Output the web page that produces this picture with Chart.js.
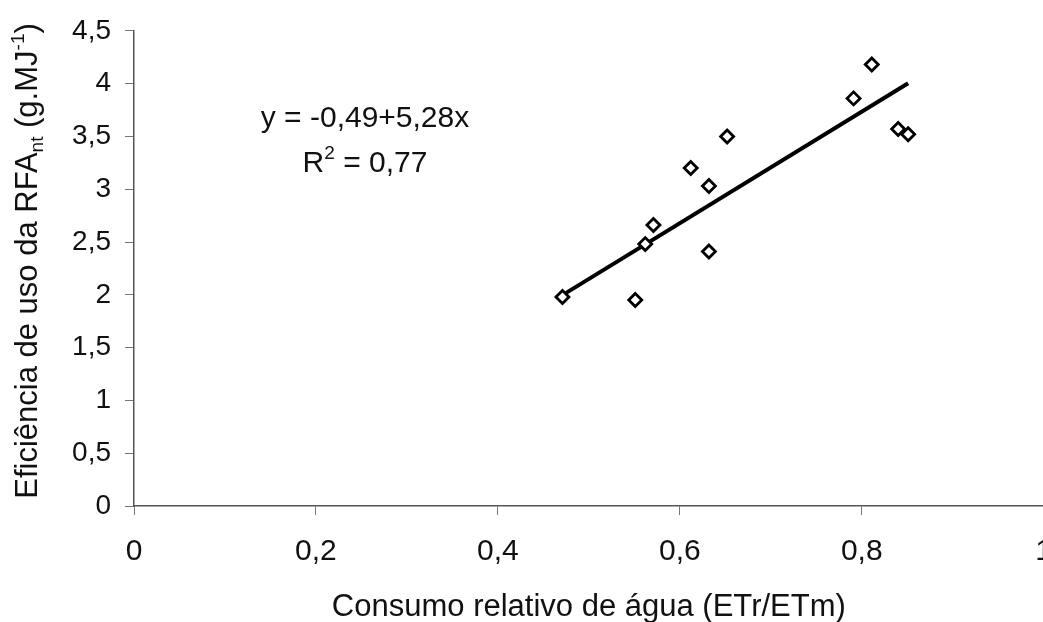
<!DOCTYPE html>
<html lang="pt">
<head>
<meta charset="utf-8">
<title>Eficiência de uso da RFA</title>
<script src="https://cdn.jsdelivr.net/npm/chart.js@4.4.1/dist/chart.umd.min.js"></script>
<style>
  html, body { margin: 0; padding: 0; background: #ffffff; overflow: hidden; }
  #wrap { width: 1043px; height: 622px; overflow: hidden; }
  canvas { display: block; }
</style>
</head>
<body>
<div id="wrap"><canvas id="chart" width="1053" height="622"></canvas></div>
<script>
// Observed points: relative water use (ETr/ETm) vs. RFA use efficiency
const consumoRelativo = [0.471, 0.551, 0.562, 0.571, 0.612, 0.632, 0.632, 0.652, 0.791, 0.811, 0.840, 0.851];
const eficienciaRFA   = [1.98, 1.95, 2.48, 2.66, 3.20, 3.03, 2.41, 3.50, 3.86, 4.18, 3.57, 3.52];

// Linear fit y = a + b·x and its coefficient of determination
const fitIntercept = -0.49;
const fitSlope = 5.28;
const fitR2 = 0.77;

// Axis tick values
const xTicks = [0, 0.2, 0.4, 0.6, 0.8, 1];
const yTicks = [0, 0.5, 1, 1.5, 2, 2.5, 3, 3.5, 4, 4.5];

const FONT = '"Liberation Sans", Arial, Helvetica, sans-serif';
const comma = v => String(Math.round(v * 100) / 100).replace('.', ',');

const points = consumoRelativo.map((x, i) => ({ x, y: eficienciaRFA[i] }));
const xMin = Math.min(...consumoRelativo);
const xMax = Math.max(...consumoRelativo);
const fitLine = [xMin, xMax].map(x => ({ x, y: fitIntercept + fitSlope * x }));

// Draws a run of text pieces (normal / subscript / superscript) centred on the origin
function drawRich(ctx, pieces, size) {
  const measure = p => {
    ctx.font = (p.sub || p.sup ? Math.round(size * 0.62) : size) + 'px ' + FONT;
    return ctx.measureText(p.t).width;
  };
  const total = pieces.reduce((s, p) => s + measure(p), 0);
  let x = -total / 2;
  ctx.textBaseline = 'alphabetic';
  ctx.textAlign = 'left';
  const base = size * 0.358;
  pieces.forEach(p => {
    const w = measure(p);
    let dy = 0;
    if (p.sub) dy = size * 0.2;
    if (p.sup) dy = -size * 0.42;
    ctx.fillText(p.t, x, base + dy);
    x += w;
  });
}

const textPlugin = {
  id: 'chartText',
  beforeDraw(chart) {
    const { ctx } = chart;
    ctx.save();
    ctx.fillStyle = '#ffffff';
    ctx.fillRect(0, 0, chart.width, chart.height);
    ctx.restore();
  },
  afterDraw(chart) {
    const { ctx, chartArea } = chart;
    ctx.save();
    ctx.fillStyle = '#111111';

    // y axis title
    ctx.save();
    ctx.translate(26, 261);
    ctx.rotate(-Math.PI / 2);
    drawRich(ctx, [
      { t: 'Eficiência de uso da RFA' },
      { t: 'nt', sub: true },
      { t: ' (g.MJ' },
      { t: '-1', sup: true },
      { t: ')' }
    ], 31);
    ctx.restore();

    // x axis title
    ctx.save();
    ctx.translate((chartArea.left + chartArea.right) / 2, 605);
    drawRich(ctx, [{ t: 'Consumo relativo de água (ETr/ETm)' }], 31);
    ctx.restore();

    // regression equation
    const sign = fitSlope >= 0 ? '+' : '-';
    ctx.save();
    ctx.translate(365, 116);
    drawRich(ctx, [{ t: 'y = ' + comma(fitIntercept) + sign + comma(Math.abs(fitSlope)) + 'x' }], 30);
    ctx.restore();
    ctx.save();
    ctx.translate(365, 161);
    drawRich(ctx, [{ t: 'R' }, { t: '2', sup: true }, { t: ' = ' + comma(fitR2) }], 30);
    ctx.restore();

    ctx.restore();
  }
};

new Chart(document.getElementById('chart'), {
  type: 'scatter',
  data: {
    datasets: [
      {
        type: 'line',
        data: fitLine,
        borderColor: '#000000',
        borderWidth: 4,
        pointRadius: 0,
        fill: false,
        order: 2
      },
      {
        data: points,
        pointStyle: 'rectRot',
        pointRadius: 6.5,
        pointBorderWidth: 2.8,
        pointBorderColor: '#000000',
        pointBackgroundColor: '#ffffff',
        order: 1
      }
    ]
  },
  options: {
    responsive: false,
    animation: false,
    devicePixelRatio: 1,
    layout: { padding: { top: 27, right: 0, left: 0, bottom: 0 } },
    plugins: { legend: { display: false }, tooltip: { enabled: false } },
    scales: {
      x: {
        type: 'linear',
        min: 0,
        max: 1,
        afterBuildTicks: s => { s.ticks = xTicks.map(v => ({ value: v })); },
        afterFit: s => { s.height = 116; s.paddingRight = 0; },
        border: { display: true, color: '#555555', width: 1.5 },
        grid: { drawOnChartArea: false, drawTicks: true, tickLength: 9, color: '#777777', lineWidth: 1 },
        ticks: {
          font: { family: FONT, size: 30, lineHeight: 1.2 },
          color: '#111111',
          padding: 19,
          maxRotation: 0,
          autoSkip: false,
          callback: v => comma(v)
        }
      },
      y: {
        type: 'linear',
        min: 0,
        max: 4.5,
        afterBuildTicks: s => { s.ticks = yTicks.map(v => ({ value: v })); },
        afterFit: s => { s.width = 134; },
        border: { display: true, color: '#555555', width: 1.5 },
        grid: { drawOnChartArea: false, drawTicks: true, tickLength: 9, color: '#777777', lineWidth: 1 },
        ticks: {
          font: { family: FONT, size: 28, lineHeight: 1.2 },
          color: '#111111',
          padding: 14,
          autoSkip: false,
          callback: v => comma(v)
        }
      }
    }
  },
  plugins: [textPlugin]
});
</script>
</body>
</html>
